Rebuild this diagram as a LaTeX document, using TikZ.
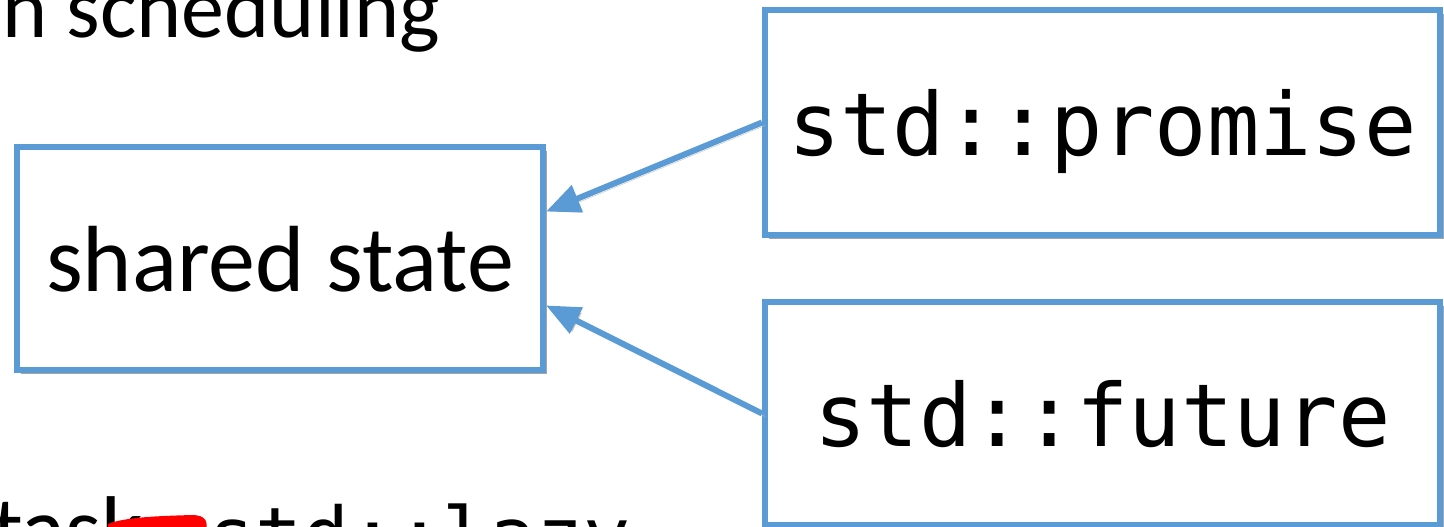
\documentclass[tikz,border=0pt]{standalone}
\usepackage{fontspec}
\setmainfont{Carlito}
\setmonofont{DejaVu Sans Mono}
\usepackage{tikz}
\usetikzlibrary{arrows.meta}
\usetikzlibrary{shadows}

\definecolor{boxblue}{RGB}{91,155,213}

\begin{document}
\begin{tikzpicture}[x=1pt, y=1pt,
		box/.style={draw=boxblue, line width=6pt, fill=white, inner sep=0pt, text depth=0pt,
			drop shadow={shadow xshift=4pt, shadow yshift=-4pt, fill=black, opacity=0.35}},
		link/.style={draw=boxblue, line width=6pt, -{Triangle[length=34pt,width=28pt]},
			preaction={draw=black!25, transform canvas={shift={(3pt,-3pt)}}}}]
		\useasboundingbox (0,0) rectangle (1444,-527);
		% text running off the edges
		\node[anchor=base west, inner sep=0pt, font=\fontsize{86}{90}\selectfont] (sched) at (2,-38) {n scheduling};
		\node[anchor=base west, inner sep=0pt, font=\fontsize{92}{96}\selectfont] (task) at (-8,-560) {task};
		\node[anchor=base west, inner sep=0pt, font=\ttfamily\fontsize{78}{82}\selectfont] (lazy) at (208,-563) {std::lazy};
		\fill[red] (108,-530) -- (108,-524) .. controls (125,-517) and (160,-516) .. (192,-515) .. controls (206,-515) and (208,-522) .. (206,-530) -- cycle;
		% the three boxes
		\node[box, minimum width=526pt, minimum height=223pt, font=\fontsize{94}{98}\selectfont] (state) at (280,-258.5) {shared state};
		\node[box, minimum width=675pt, minimum height=225pt, font=\ttfamily\fontsize{87}{92}\selectfont] (promise) at (1102.5,-122.5) {std::promise};
		\node[box, minimum width=675pt, minimum height=223pt, font=\ttfamily\fontsize{87}{92}\selectfont] (future) at (1102.5,-413.5) {std::future};
		\draw[link] (promise.west) -- (state.10);
		\draw[link] (future.west) -- (state.-10.5);
		
		\end{tikzpicture}
\end{document}
